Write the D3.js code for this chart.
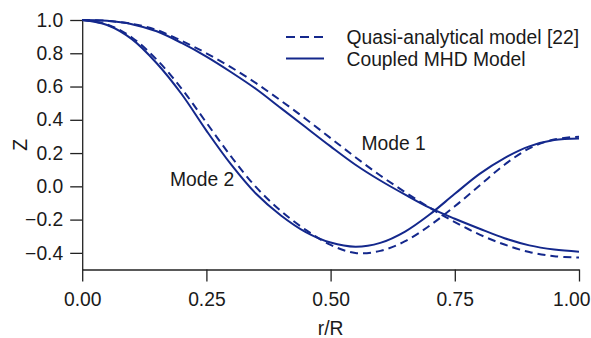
<!DOCTYPE html>
<html>
<head>
<meta charset="utf-8">
<script src="https://cdn.jsdelivr.net/npm/d3@7"></script>
<style>
  html, body { margin: 0; padding: 0; background: #fff; }
  svg { display: block; font-family: "Liberation Sans", Arial, sans-serif; }
</style>
</head>
<body>
<svg id="chart" width="591" height="338"></svg>
<script>
// ---- data ----
const rValues = [0, 0.05, 0.1, 0.15, 0.2, 0.25, 0.3, 0.35, 0.4, 0.45, 0.5,
                 0.55, 0.6, 0.65, 0.7, 0.75, 0.8, 0.85, 0.9, 0.95, 1.0];
const mode1Coupled = [1.000, 0.995, 0.975, 0.932, 0.862, 0.780, 0.686, 0.585, 0.470, 0.355, 0.240,
                      0.130, 0.035, -0.050, -0.130, -0.195, -0.255, -0.312, -0.355, -0.380, -0.393];
const mode1Quasi   = [1.000, 0.995, 0.977, 0.940, 0.875, 0.800, 0.715, 0.620, 0.515, 0.405, 0.290,
                      0.175, 0.065, -0.035, -0.130, -0.215, -0.290, -0.350, -0.395, -0.420, -0.428];
const mode2Coupled = [1.000, 0.970, 0.885, 0.740, 0.555, 0.335, 0.130, -0.045, -0.175, -0.275, -0.338,
                      -0.363, -0.340, -0.272, -0.168, -0.045, 0.075, 0.170, 0.240, 0.278, 0.288];
const mode2Quasi   = [1.000, 0.973, 0.895, 0.762, 0.588, 0.383, 0.178, -0.005, -0.148, -0.262, -0.352,
                      -0.401, -0.388, -0.330, -0.235, -0.120, 0.005, 0.130, 0.228, 0.282, 0.298];
const xTicks = [0, 0.25, 0.5, 0.75, 1.0];
const yTicks = [-0.4, -0.2, 0.0, 0.2, 0.4, 0.6, 0.8, 1.0];
const legendLabels = ["Quasi-analytical model [22]", "Coupled MHD Model"];
const modeLabels = ["Mode 1", "Mode 2"];

// ---- layout ----
const svg = d3.select("#chart");
const color = "#14288c";
const fs = 19.3;
const x = d3.scaleLinear().domain([0, 1]).range([82.2, 579]);
const y = d3.scaleLinear().domain([-0.5, 1.0]).range([269.5, 20]);

// axes
const xAxis = d3.axisBottom(x).tickValues(xTicks).tickFormat(d3.format(".2f"))
  .tickSize(12).tickSizeOuter(0).tickPadding(11);
const yAxis = d3.axisLeft(y).tickValues(yTicks).tickFormat(d3.format(".1f"))
  .tickSize(12).tickSizeOuter(0).tickPadding(7);

const gx = svg.append("g").attr("transform", `translate(0,${y(-0.5)})`).call(xAxis);
const gy = svg.append("g").attr("transform", `translate(${x(0)},0)`).call(yAxis);
[gx, gy].forEach(g => {
  g.select(".domain").attr("stroke", "#222").attr("stroke-width", 1.3);
  g.selectAll(".tick line").attr("stroke", "#222").attr("stroke-width", 1.3);
  g.selectAll(".tick text").attr("fill", "#1a1a1a")
    .style("font-size", fs + "px").style("font-family", "'Liberation Sans', Arial, sans-serif");
});
// keep the last x label inside the window
gx.selectAll(".tick text").filter(d => d === 1).attr("text-anchor", "end").attr("x", 11);

// axis titles
svg.append("text").attr("x", (x(0) + x(1)) / 2).attr("y", 335)
  .attr("text-anchor", "middle").attr("fill", "#1a1a1a").style("font-size", fs + "px")
  .text("r/R");
svg.append("text").attr("transform", `translate(27,${(y(1) + y(-0.5)) / 2}) rotate(-90)`)
  .attr("text-anchor", "middle").attr("fill", "#1a1a1a").style("font-size", fs + "px")
  .text("Z");

// curves
const line = d3.line().x(d => x(d[0])).y(d => y(d[1])).curve(d3.curveCatmullRom.alpha(0.5));
const series = [
  { vals: mode1Quasi, dash: "8,5" },
  { vals: mode2Quasi, dash: "8,5" },
  { vals: mode1Coupled, dash: null },
  { vals: mode2Coupled, dash: null }
];
series.forEach(s => {
  svg.append("path")
    .datum(rValues.map((r, i) => [r, s.vals[i]]))
    .attr("d", line)
    .attr("fill", "none")
    .attr("stroke", color)
    .attr("stroke-width", 2)
    .attr("stroke-dasharray", s.dash);
});

// mode labels
svg.append("text").attr("x", 361.5).attr("y", 150).attr("fill", "#1a1a1a")
  .style("font-size", fs + "px").text(modeLabels[0]);
svg.append("text").attr("x", 170).attr("y", 185.5).attr("fill", "#1a1a1a")
  .style("font-size", fs + "px").text(modeLabels[1]);

// legend
const legendRows = [{ y: 37, dash: "9,5" }, { y: 58.5, dash: null }];
legendRows.forEach((row, i) => {
  svg.append("line").attr("x1", 286).attr("x2", 324).attr("y1", row.y).attr("y2", row.y)
    .attr("stroke", color).attr("stroke-width", 2).attr("stroke-dasharray", row.dash);
  svg.append("text").attr("x", 346.5).attr("y", row.y + 7).attr("fill", "#1a1a1a")
    .style("font-size", fs + "px").text(legendLabels[i]);
});
</script>
</body>
</html>
